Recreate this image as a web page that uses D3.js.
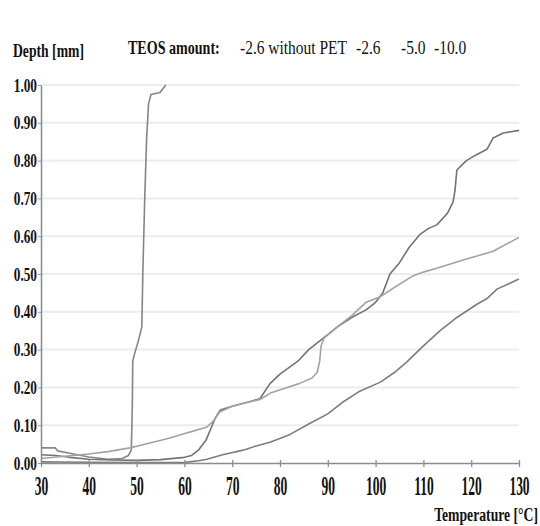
<!DOCTYPE html>
<html>
<head>
<meta charset="utf-8">
<script src="https://cdn.jsdelivr.net/npm/d3@7"></script>
<style>
  body { margin: 0; background: #fff; }
  text { font-family: "Liberation Serif", "Times New Roman", serif; fill: #111; }
</style>
</head>
<body>
<div id="chart"></div>
<script>
// tick values
var xTicks = [30, 40, 50, 60, 70, 80, 90, 100, 110, 120, 130];
var yTicks = [0, 0.1, 0.2, 0.3, 0.4, 0.5, 0.6, 0.7, 0.8, 0.9, 1.0];

var legendLabels = ["-2.6 without PET", "-2.6", "-5.0", "-10.0"];

// [temperature, depth]
var teos26noPet = [[30,0.040],[33,0.040],[33.5,0.032],[36,0.026],[40,0.016],[44,0.010],[47,0.012],
  [48.3,0.020],[48.9,0.035],[49.1,0.15],[49.2,0.27],[49.6,0.29],[50.3,0.32],[51.1,0.36],[51.3,0.50],
  [51.7,0.70],[52.1,0.86],[52.5,0.95],[53.0,0.975],[54.9,0.98],[55.5,0.99],[56.1,1.00]];

var teos26 = [[30,0.022],[33,0.020],[36,0.015],[40,0.010],[45,0.008],[50,0.007],[55,0.009],[60,0.015],
  [61.5,0.020],[63,0.035],[64.5,0.060],[65.5,0.090],[66.5,0.12],[67.5,0.14],[70,0.15],[73,0.16],
  [75.8,0.17],[77.9,0.21],[80,0.235],[83.8,0.27],[86,0.30],[89,0.33],[92,0.36],[95,0.385],[98,0.405],
  [100,0.425],[101.5,0.45],[103,0.50],[105,0.53],[107,0.57],[109.3,0.605],[111,0.62],[112.8,0.63],
  [115,0.66],[116.2,0.69],[116.6,0.72],[117,0.775],[119,0.80],[121,0.815],[123.3,0.83],[124.6,0.86],
  [126.7,0.873],[130,0.88]];

var teos50 = [[30,0.012],[35,0.018],[40,0.024],[44,0.030],[48.6,0.040],[52.8,0.053],[57,0.066],
  [59,0.074],[62,0.085],[64.7,0.095],[66,0.11],[67.4,0.135],[70,0.15],[73,0.16],[75.8,0.168],
  [78,0.185],[81.5,0.20],[84,0.21],[86.7,0.225],[87.8,0.24],[88.3,0.27],[88.6,0.31],[89.2,0.33],
  [92,0.36],[95,0.39],[98,0.425],[101,0.44],[104,0.465],[107.8,0.495],[110,0.505],[114,0.52],
  [118.3,0.537],[124.6,0.56],[130,0.597]];

var teos100 = [[30,0.003],[40,0.002],[50,0.001],[60,0.002],[61,0.003],[63,0.006],[64.7,0.010],
  [68,0.022],[72.3,0.034],[75,0.045],[77.9,0.055],[82,0.075],[86.3,0.105],[90,0.13],[93,0.16],
  [96.7,0.19],[101,0.214],[104,0.24],[106.6,0.268],[110,0.31],[113.5,0.35],[117,0.385],[121.2,0.42],
  [123.3,0.435],[125.4,0.46],[128,0.475],[130,0.487]];

var seriesData = [teos26noPet, teos26, teos50, teos100];
var lineColors = ['#858585', '#737373', '#a3a3a3', '#7d7d7d'];

var width = 540, height = 526;
var margin = {top: 85, right: 21, bottom: 63, left: 41};
var w = width - margin.left - margin.right,
    h = height - margin.top - margin.bottom;

var svg = d3.select('#chart').append('svg')
  .attr('width', width)
  .attr('height', height);

var x = d3.scaleLinear().domain([30, 130]).range([0, w]);
var y = d3.scaleLinear().domain([0, 1]).range([h, 0]);

// narrow print face: draw text in a group squeezed horizontally
function label(parent, str, px, py, size, weight, k, anchor) {
  var t = parent.append('g')
    .attr('transform', 'translate(' + px + ',' + py + ') scale(' + k + ',1)')
    .append('text')
    .attr('text-anchor', anchor || 'start')
    .style('font-size', size + 'px')
    .style('font-weight', weight)
    .text(str);
  return t;
}

var g = svg.append('g')
  .attr('transform', 'translate(' + margin.left + ',' + margin.top + ')');

// grid
g.selectAll('line.grid').data(yTicks.filter(function(d) { return d > 0; }))
  .enter().append('line')
  .attr('class', 'grid')
  .attr('x1', 0).attr('x2', w)
  .attr('y1', function(d) { return y(d); })
  .attr('y2', function(d) { return y(d); })
  .style('stroke', '#ececec')
  .style('stroke-width', 2);

// lines
var line = d3.line()
  .x(function(d) { return x(d[0]); })
  .y(function(d) { return y(d[1]); });

g.selectAll('path.series').data(seriesData)
  .enter().append('path')
  .attr('class', 'series')
  .attr('d', line)
  .style('fill', 'none')
  .style('stroke', function(d, i) { return lineColors[i]; })
  .style('stroke-width', 1.6)
  .style('stroke-linejoin', 'round');

// y axis
var yK = 0.7;
var yAxis = d3.axisLeft(y).tickValues(yTicks).tickFormat(d3.format('.2f'))
  .tickSizeInner(3).tickSizeOuter(0).tickPadding(2);
var yGuide = g.append('g').call(yAxis);
yGuide.attr('font-family', null).attr('font-size', null);
yGuide.select('.domain').style('stroke', '#888').style('stroke-width', 1.5);
yGuide.selectAll('line').style('stroke', '#999');
yGuide.selectAll('text')
  .attr('x', -4 / yK)
  .attr('transform', 'scale(' + yK + ',1)')
  .style('font-size', '19px').style('font-weight', 'bold');

// x axis
var xK = 0.5;
var xAxis = d3.axisBottom(x).tickValues(xTicks).tickSizeInner(4).tickSizeOuter(0);
var xGuide = g.append('g').attr('transform', 'translate(0,' + h + ')').call(xAxis);
xGuide.attr('font-family', null).attr('font-size', null);
xGuide.select('.domain').style('stroke', '#8c8c8c').style('stroke-width', 1.5);
xGuide.selectAll('.tick line').attr('y1', -3).style('stroke', '#8c8c8c').style('stroke-width', 1.3);
xGuide.selectAll('text')
  .attr('y', 32).attr('dy', null)
  .attr('transform', 'scale(' + xK + ',1)')
  .style('font-size', '27px').style('font-weight', 'bold');

// titles
label(svg, 'Depth [mm]', 13, 57, 19, 'bold', 0.72);
label(svg, 'TEOS amount:', 128, 54, 19, 'bold', 0.74);

var legendX = [240, 356, 401, 434];
legendLabels.forEach(function(d, i) {
  label(svg, d, legendX[i], 54, 18, 'normal', 0.86);
});

label(svg, 'Temperature [°C]', 538, 521, 19, 'bold', 0.72, 'end');
</script>
</body>
</html>
